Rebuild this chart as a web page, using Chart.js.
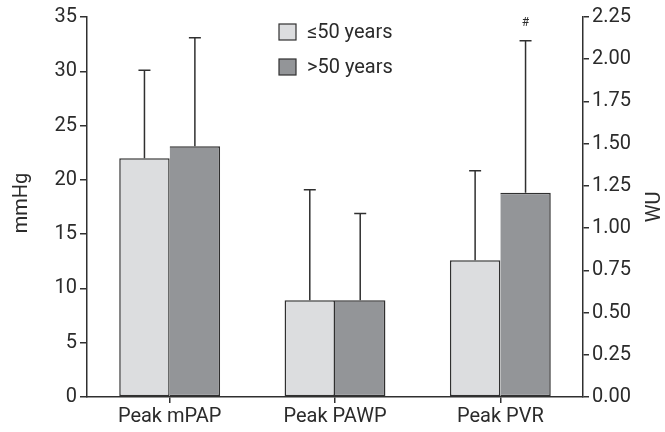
<!DOCTYPE html>
<html><head><meta charset="utf-8">
<script src="https://cdn.jsdelivr.net/npm/chart.js@4"></script>
<style>html,body{margin:0;padding:0;background:#fff}#wrap{width:665px;height:432px;position:relative}</style>
</head><body><div id="wrap"><canvas id="c" width="665" height="432"></canvas></div>
<script>
const categories = ['Peak mPAP', 'Peak PAWP', 'Peak PVR'];
const seriesNames = ['≤50 years', '>50 years'];
// mmHg values (left axis)
const mmhgYoung = [22.0, 8.9, null];
const mmhgOld = [23.1, 8.9, null];
const mmhgYoungSD = [8.1, 10.2, null];
const mmhgOldSD = [10.0, 8.0, null];
// WU values (right axis)
const wuYoung = [null, null, 0.81];
const wuOld = [null, null, 1.21];
const wuYoungSD = [null, null, 0.53];
const wuOldSD = [null, null, 0.90];
// significance markers for >50 years
const oldMarkers = ['', '', '#'];
const leftTicks = [0, 5, 10, 15, 20, 25, 30, 35];
const rightTicks = [0, 0.25, 0.5, 0.75, 1.0, 1.25, 1.5, 1.75, 2.0, 2.25];
const leftTitle = 'mmHg';
const rightTitle = 'WU';

const LIGHT = '#dcdddf', DARK = '#939598', INK = '#303030', TXT = '#2b2b2b';
const FONT = 'Roboto';

const sdMap = [mmhgYoungSD, mmhgOldSD, wuYoungSD, wuOldSD];
const markMap = [null, oldMarkers, null, oldMarkers];

function ds(label, data, color, axis, skip) {
  return { label, data, yAxisID: axis, backgroundColor: color, borderColor: INK,
    borderWidth: 1.5, borderSkipped: skip, skipNull: true,
    barPercentage: 1, categoryPercentage: 0.61 };
}

const extras = {
  id: 'extras',
  afterDatasetsDraw(chart) {
    const ctx = chart.ctx;
    ctx.save();
    ctx.strokeStyle = INK; ctx.lineWidth = 1.5;
    chart.data.datasets.forEach((d, di) => {
      const meta = chart.getDatasetMeta(di);
      const sc = chart.scales[d.yAxisID];
      d.data.forEach((v, i) => {
        if (v === null) return;
        const el = meta.data[i];
        const sd = sdMap[di][i];
        const yTop = sc.getPixelForValue(v + sd);
        ctx.beginPath();
        ctx.moveTo(el.x, el.y); ctx.lineTo(el.x, yTop);
        ctx.moveTo(el.x - 6, yTop); ctx.lineTo(el.x + 6, yTop);
        ctx.stroke();
        const mk = markMap[di] && markMap[di][i];
        if (mk) {
          ctx.fillStyle = TXT; ctx.font = '12px ' + FONT;
          ctx.textAlign = 'center'; ctx.textBaseline = 'alphabetic';
          ctx.fillText(mk, el.x, yTop - 15);
        }
      });
    });
    // axis titles
    ctx.fillStyle = TXT; ctx.font = '20px ' + FONT;
    ctx.textAlign = 'center'; ctx.textBaseline = 'middle';
    ctx.save(); ctx.translate(22, 203); ctx.rotate(-Math.PI / 2); ctx.fillText(leftTitle, 0, 0); ctx.restore();
    ctx.save(); ctx.translate(655, 207); ctx.rotate(-Math.PI / 2); ctx.fillText(rightTitle, 0, 0); ctx.restore();
    // legend
    const lx = 279, ly = [24, 59];
    [LIGHT, DARK].forEach((c, k) => {
      ctx.fillStyle = c; ctx.fillRect(lx, ly[k], 17, 16);
      ctx.lineWidth = 1.2; ctx.strokeStyle = INK; ctx.strokeRect(lx, ly[k], 17, 16);
      ctx.fillStyle = TXT; ctx.font = '20px ' + FONT;
      ctx.textAlign = 'left'; ctx.textBaseline = 'middle';
      ctx.fillText(seriesNames[k], 307, ly[k] + 8.5);
    });
    ctx.restore();
  }
};

const tickFont = { family: FONT, size: 20 };
new Chart(document.getElementById('c'), {
  type: 'bar',
  data: {
    labels: categories,
    datasets: [
      ds(seriesNames[0], mmhgYoung, LIGHT, 'y', false),
      ds(seriesNames[1], mmhgOld, DARK, 'y', 'left'),
      ds(seriesNames[0], wuYoung, LIGHT, 'y2', false),
      ds(seriesNames[1], wuOld, DARK, 'y2', 'left')
    ]
  },
  options: {
    responsive: false, animation: false, devicePixelRatio: 1,
    layout: { padding: { top: 17, left: 0, right: 0, bottom: 0 } },
    plugins: { legend: { display: false }, tooltip: { enabled: false } },
    scales: {
      x: {
        offset: true,
        grid: { offset: false, drawOnChartArea: false, drawTicks: true, tickLength: 6, color: INK, lineWidth: 1.5 },
        border: { color: INK, width: 1.5 },
        ticks: { font: tickFont, color: TXT, padding: 2, maxRotation: 0, minRotation: 0, autoSkip: false },
        afterFit(s) { s.height = 35; }
      },
      y: {
        position: 'left', min: 0, max: 35,
        afterBuildTicks(s) { s.ticks = leftTicks.map(v => ({ value: v })); },
        grid: { drawOnChartArea: false, drawTicks: true, tickLength: 7, color: INK, lineWidth: 1.5 },
        border: { color: INK, width: 1.5 },
        ticks: { font: tickFont, color: TXT, padding: 3 },
        afterFit(s) { s.width = 87; }
      },
      y2: {
        position: 'right', min: 0, max: 2.25,
        afterBuildTicks(s) { s.ticks = rightTicks.map(v => ({ value: v })); },
        grid: { drawOnChartArea: false, drawTicks: true, tickLength: 6, color: INK, lineWidth: 1.5 },
        border: { color: INK, width: 1.5 },
        ticks: { font: tickFont, color: TXT, padding: 3, callback: v => Number(v).toFixed(2) },
        afterFit(s) { s.width = 82; }
      }
    }
  },
  plugins: [extras]
});
</script></body></html>
